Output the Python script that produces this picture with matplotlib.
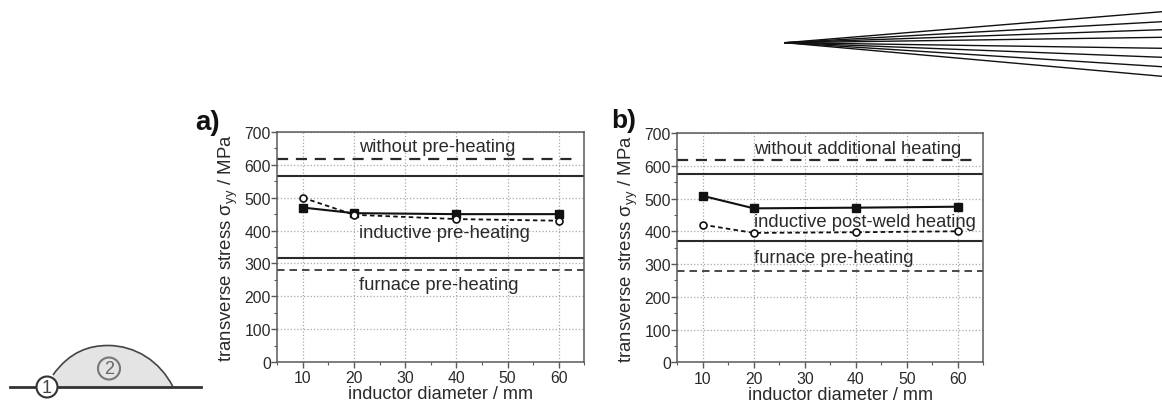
#!/usr/bin/env python3
import matplotlib
matplotlib.use('Agg')
import matplotlib.pyplot as plt
from matplotlib.patches import Circle, PathPatch
from matplotlib.path import Path

plt.rcParams['font.family'] = ['Liberation Sans', 'DejaVu Sans']
plt.rcParams['mathtext.fontset'] = 'dejavusans'
plt.rcParams['mathtext.default'] = 'regular'

W, H = 1162, 402
dark = '#2a2a2a'
frame = '#5a5a5a'

diameter = [10, 20, 40, 60]
a_solid = [470, 453, 450, 450]
a_open = [500, 448, 435, 430]
b_solid = [508, 470, 472, 475]
b_open = [420, 395, 397, 400]

a_solid_levels = [567, 318]
a_dashed_levels = [618, 280]
b_solid_levels = [575, 370]
b_dashed_levels = [618, 280]

a_texts = [('without pre-heating', 657), ('inductive pre-heating', 394),
           ('furnace pre-heating', 237)]
b_texts = [('without additional heating', 652), ('inductive post-weld heating', 429),
           ('furnace pre-heating', 321)]

# fan in the top right corner, pixel positions
fan_start = (785, 43.7)
fan_end_x = 1162
fan_end_y = [12.7, 22.7, 30.7, 38.3, 49.3, 58.3, 67.7, 77.3]

# weld bead outline, pixels
bead_curve = [(53, 376), (70, 352), (90, 346.5), (108, 346.5),
              (135, 346.5), (160, 362), (173, 388)]


def axes_px(fig, left, right, top, bottom):
    return fig.add_axes([left/W, 1 - bottom/H, (right - left)/W, (bottom - top)/H])


def panel(ax, solid, opened, solid_levels, dashed_levels, texts, text_x):
    ax.set_xlim(5, 65)
    ax.set_ylim(0, 700)
    ax.grid(True, which='major', linestyle=':', color='#a8a8a8', linewidth=0.9)
    ax.set_axisbelow(True)
    for level in solid_levels:
        ax.plot([5, 65], [level, level], color=dark, linewidth=1.5)
    ax.plot([5, 64], [dashed_levels[0]]*2, color=dark, linewidth=1.6, linestyle=(0, (5, 3.5)))
    ax.plot([5, 65], [dashed_levels[1]]*2, color=dark, linewidth=1.2, linestyle=(0, (4.5, 3)))
    ax.plot(diameter, solid, color='#111111', linewidth=1.5, marker='s', markersize=5.5)
    ax.plot(diameter, opened, color='#111111', linewidth=1.3, linestyle=(0, (2.5, 1.8)),
            marker='o', markersize=5, markerfacecolor='white', markeredgewidth=1.2)
    for label, y in texts:
        ax.text(text_x, y, label, fontsize=13.2, color=dark, va='center')
    ax.set_xticks(range(10, 61, 10))
    ax.set_xticks(range(5, 66, 10), minor=True)
    ax.set_yticks(range(0, 701, 100))
    ax.set_yticks(range(50, 700, 100), minor=True)
    ax.tick_params(which='major', length=4, width=1, color=frame, labelcolor=dark,
                   labelsize=11.3, pad=2)
    ax.tick_params(axis='y', which='major', pad=0.5)
    ax.tick_params(which='minor', length=2.5, width=0.8, color=frame)
    for spine in ax.spines.values():
        spine.set_color(frame)
        spine.set_linewidth(1.1)
    ax.set_xlabel('inductor diameter / mm', fontsize=13.1, color=dark, labelpad=0, x=0.533)
    ax.set_ylabel(r'transverse stress $\sigma_{yy}$ / MPa', fontsize=13.4, color=dark, labelpad=3)


fig = plt.figure(figsize=(W/100, H/100), dpi=100)

ax_a = axes_px(fig, 277.3, 584.3, 133, 363)
panel(ax_a, a_solid, a_open, a_solid_levels, a_dashed_levels, a_texts, 21)
ax_b = axes_px(fig, 677.3, 983.3, 134, 363.3)
panel(ax_b, b_solid, b_open, b_solid_levels, b_dashed_levels, b_texts, 20)

# overlay in pixel coordinates for the sketches and panel letters
ov = fig.add_axes([0, 0, 1, 1], zorder=5)
ov.set_xlim(0, W)
ov.set_ylim(H, 0)
ov.axis('off')
ov.patch.set_alpha(0)

ov.text(195, 123, 'a)', fontsize=20, fontweight='bold', color='#111111', va='center', ha='left')
ov.text(611, 121, 'b)', fontsize=19, fontweight='bold', color='#111111', va='center', ha='left')

for y_end in fan_end_y:
    ov.plot([fan_start[0], fan_end_x], [fan_start[1], y_end], color='#111111', linewidth=1.0)

codes = [Path.MOVETO] + [Path.CURVE4]*6
fill_verts = bead_curve + [(53, 388), (53, 376)]
fill_codes = codes + [Path.LINETO, Path.CLOSEPOLY]
ov.add_patch(PathPatch(Path(fill_verts, fill_codes), facecolor='#e4e4e4', edgecolor='none'))
ov.add_patch(PathPatch(Path(bead_curve, codes), facecolor='none', edgecolor='#444444', linewidth=1.2))
ov.plot([10, 201], [388, 388], color='#333333', linewidth=2)
ov.add_patch(Circle((47, 388), 10.5, facecolor='white', edgecolor='#333333', linewidth=1.5, zorder=4))
ov.text(47, 388.5, '1', fontsize=13, color='#444444', ha='center', va='center', zorder=5)
ov.add_patch(Circle((109, 369.5), 11, facecolor='none', edgecolor='#777777', linewidth=1.5, zorder=4))
ov.text(109, 370, '2', fontsize=13, color='#666666', ha='center', va='center', zorder=5)

fig.savefig('out.png', dpi=100)
